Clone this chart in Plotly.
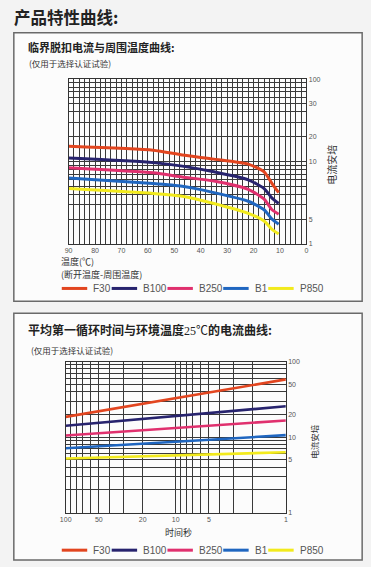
import plotly.graph_objects as go

W, H = 371, 567

# ---------------- data ----------------
series_names = ["F30", "B100", "B250", "B1", "P850"]
series_colors = ["#e2451f", "#27236e", "#e0306e", "#1f66c0", "#f2ea1c"]

# Chart 1: trip current (A) vs temperature difference (°C)
temp_c = [90, 58, 47, 35, 22, 16, 13, 10.5]
f30_trip = [15.3, 13.7, 12.0, 10.7, 9.3, 7.5, 5.4, 4.2]
b100_trip = [11.0, 9.7, 8.8, 7.5, 6.0, 4.7, 3.6, 3.1]
b250_trip = [8.4, 7.3, 6.5, 5.8, 4.6, 3.5, 2.6, 2.3]
b1_trip = [6.3, 5.4, 5.0, 4.2, 3.3, 2.6, 2.0, 1.74]
p850_trip = [4.7, 4.1, 3.8, 3.1, 2.35, 1.9, 1.5, 1.32]

# Chart 2: current (A) vs first-cycle time (s) at 25 °C
time_s = [100, 1]
f30_time = [18.5, 58.0]
b100_time = [14.1, 25.6]
b250_time = [10.5, 16.6]
b1_time = [7.1, 10.6]
p850_time = [5.2, 6.3]

# tick labels
c1_x_ticks = list(range(0, 91, 2))
c1_x_labels = [str(v) if v % 10 == 0 else "" for v in c1_x_ticks]
log_grid = [1, 2, 3, 4, 5, 6, 7, 8, 9, 10, 20, 30, 40, 50, 60, 70, 80, 90, 100]
c1_y_labels = {1: "1", 2: "5", 10: "10", 20: "20", 50: "30", 100: "100"}
c2_x_labels = {1: "1", 5: "5", 10: "10", 20: "20", 50: "50", 100: "100"}
c2_y_labels = {1: "1", 5: "5", 10: "10", 20: "20", 50: "50", 100: "100"}

# ---------------- helpers ----------------
def px(x):
    return x / W

def py(y):
    return 1 - y / H

CJK = "Noto Sans CJK SC"
LAT = "Liberation Sans"

fig = go.Figure()

trip_sets = [f30_trip, b100_trip, b250_trip, b1_trip, p850_trip]
time_sets = [f30_time, b100_time, b250_time, b1_time, p850_time]

for name, color, ys in zip(series_names, series_colors, trip_sets):
    fig.add_trace(go.Scatter(
        x=temp_c, y=ys, mode="lines", name=name,
        line=dict(color=color, width=3, shape="spline", smoothing=0.6),
        xaxis="x", yaxis="y", showlegend=False, hoverinfo="skip"))

for name, color, ys in zip(series_names, series_colors, time_sets):
    fig.add_trace(go.Scatter(
        x=time_s, y=ys, mode="lines", name=name,
        line=dict(color=color, width=2.6),
        xaxis="x2", yaxis="y2", showlegend=False, hoverinfo="skip"))

tickfont = dict(family=LAT, size=7, color="#555")
grid_common = dict(showgrid=True, gridcolor="#3a3a3a", gridwidth=1,
                   showline=True, mirror=True, linecolor="#333", linewidth=1,
                   ticks="", zeroline=False, tickfont=tickfont, fixedrange=True)

fig.update_layout(
    xaxis=dict(domain=[px(64), px(307)], range=[90, 0], anchor="y",
               tickmode="array", tickvals=c1_x_ticks, ticktext=c1_x_labels,
               **grid_common),
    yaxis=dict(domain=[py(243), py(76)], type="log", range=[0, 2], anchor="x",
               side="right", tickmode="array", tickvals=log_grid,
               ticktext=[c1_y_labels.get(v, "") for v in log_grid],
               **grid_common),
    xaxis2=dict(domain=[px(61), px(286)], type="log", range=[2, 0], anchor="y2",
                tickmode="array", tickvals=log_grid,
                ticktext=[c2_x_labels.get(v, "") for v in log_grid],
                **grid_common),
    yaxis2=dict(domain=[py(515), py(362)], type="log", range=[0, 2], anchor="x2",
                side="right", tickmode="array", tickvals=log_grid,
                ticktext=[c2_y_labels.get(v, "") for v in log_grid],
                **grid_common),
)

shapes = []
# panel boxes
shapes.append(dict(type="rect", xref="paper", yref="paper", layer="below",
                   x0=px(8), x1=px(364), y0=py(301), y1=py(29),
                   line=dict(color="#6a6a6a", width=1.5), fillcolor="#fcfcfc"))
shapes.append(dict(type="rect", xref="paper", yref="paper", layer="below",
                   x0=px(8), x1=px(364), y0=py(563), y1=py(313),
                   line=dict(color="#6a6a6a", width=1.5), fillcolor="#fcfcfc"))

annotations = []

def txt(x, y, text, size, color="#222", family=CJK, xanchor="left", angle=0):
    annotations.append(dict(x=px(x), y=py(y), xref="paper", yref="paper",
                            text=text, showarrow=False, xanchor=xanchor,
                            yanchor="middle", textangle=angle,
                            font=dict(family=family, size=size, color=color)))

txt(6, 13, "<b>产品特性曲线:</b>", 16.5, "#222")
txt(20, 44, "<b>临界脱扣电流与周围温度曲线:</b>", 11, "#222")
txt(21, 60, "(仅用于选择认证试验)", 8.5, "#333")
txt(54, 261, "温度(℃)", 9, "#333")
txt(54, 274, "(断开温度-周围温度)", 9, "#333")
txt(333, 163, "电流安培", 10, "#333", xanchor="center", angle=-90)

txt(20, 330, "<b>平均第一循环时间与环境温度</b>"
             "<span style='font-family:Liberation Serif'>25</span>℃"
             "<b>的电流曲线:</b>", 12, "#222")
txt(24, 350, "(仅用于选择认证试验)", 8.5, "#333")
txt(176, 535, "时间秒", 9, "#333", xanchor="center")
txt(314, 443, "电流安培", 8.5, "#333", xanchor="center", angle=-90)

# manual legends (one per chart)
leg_line_x = [57, 108, 165, 222, 268]
leg_text_x = [87, 138, 195, 252, 298]
for leg_y in (288, 553):
    for name, color, lx, tx in zip(series_names, series_colors, leg_line_x, leg_text_x):
        shapes.append(dict(type="line", xref="paper", yref="paper",
                           x0=px(lx), x1=px(lx + 26), y0=py(leg_y), y1=py(leg_y),
                           line=dict(color=color, width=3)))
        txt(tx, leg_y, name, 10, "#555", family=LAT)

fig.update_layout(
    width=W, height=H, margin=dict(l=0, r=0, t=0, b=0),
    paper_bgcolor="#f3f3f3", plot_bgcolor="#ffffff",
    shapes=shapes, annotations=annotations, showlegend=False,
)

fig.write_html("out.html", config={"displayModeBar": False},
               post_script="document.body.style.margin='0';"
                           "document.body.style.padding='0';"
                           "document.body.style.overflow='hidden';"
                           "document.documentElement.style.overflow='hidden';")
